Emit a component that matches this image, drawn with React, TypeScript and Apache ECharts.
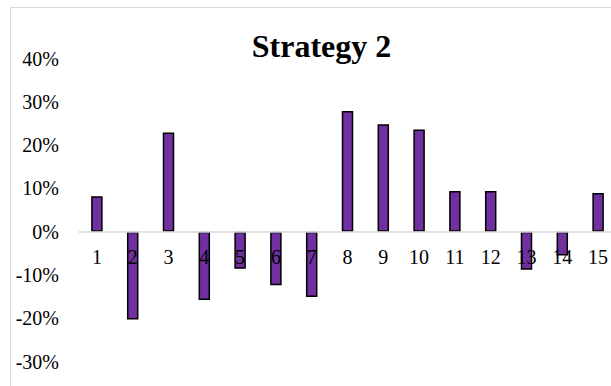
import React, { useEffect, useRef } from "react";
import * as echarts from "echarts";

const categories: string[] = ["1", "2", "3", "4", "5", "6", "7", "8", "9", "10", "11", "12", "13", "14", "15"];
const values: number[] = [0.082, -0.203, 0.229, -0.158, -0.086, -0.124, -0.151, 0.279, 0.248, 0.236, 0.094, 0.094, -0.088, -0.055, 0.089];
const yTicks = { min: -0.3, max: 0.4, interval: 0.1 };
const titleText = "Strategy 2";

export default function App() {
  const ref = useRef<HTMLDivElement>(null);
  useEffect(() => {
    if (!ref.current) return;
    const chart = echarts.init(ref.current, undefined, { renderer: "svg" });
    const font = "Liberation Serif";
    const gridTop = 58.5;
    const gridBottomY = 361.5;
    const zeroY = gridTop + (gridBottomY - gridTop) * (yTicks.max / (yTicks.max - yTicks.min));
    chart.setOption({
      animation: false,
      backgroundColor: "#ffffff",
      title: {
        text: titleText,
        left: 316.5,
        top: 24.5,
        textAlign: "center",
        textStyle: { fontFamily: font, fontSize: 32, fontWeight: "bold", color: "#000" },
      },
      graphic: [
        {
          type: "rect",
          shape: { x: 10.5, y: 7.5, width: 700, height: 500 },
          style: { fill: "none", stroke: "#d9d9d9", lineWidth: 1 },
          silent: true,
          z: -1,
        },
      ],
      grid: { left: 79, right: 4, top: gridTop, bottom: 420 - gridBottomY },
      xAxis: {
        type: "category",
        data: categories,
        z: 10,
        offset: -(gridBottomY - zeroY),
        axisLine: { onZero: false, lineStyle: { color: "#d9d9d9", width: 1.5 } },
        axisTick: { show: false },
        axisLabel: { fontFamily: font, fontSize: 20, color: "#000", margin: 15, interval: 0 },
        splitLine: { show: false },
      },
      yAxis: {
        type: "value",
        min: yTicks.min,
        max: yTicks.max,
        interval: yTicks.interval,
        axisLine: { show: false },
        axisTick: { show: false },
        splitLine: { show: false },
        axisLabel: {
          fontFamily: font,
          fontSize: 20,
          color: "#000",
          margin: 20,
          formatter: (v: number) => Math.round(v * 100) + "%",
        },
      },
      series: [
        {
          type: "bar",
          data: values,
          barWidth: 11.5,
          itemStyle: { color: "#7030A0", borderColor: "#000", borderWidth: 1.5 },
        },
      ],
    });
    return () => chart.dispose();
  }, []);
  return (
    <div style={{ position: "fixed", left: 0, top: 0, width: 611, height: 386, overflow: "hidden", background: "#fff" }}>
      <div ref={ref} style={{ width: 620, height: 420 }} />
    </div>
  );
}
